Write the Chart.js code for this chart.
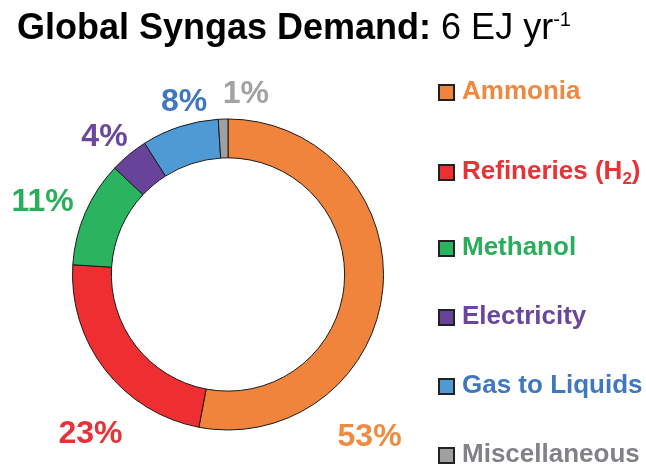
<!DOCTYPE html>
<html>
<head>
<meta charset="utf-8">
<script src="https://cdn.jsdelivr.net/npm/chart.js@4"></script>
<style>
  html, body { margin: 0; padding: 0; background: #fff; }
  #wrap { position: relative; width: 646px; height: 468px; overflow: hidden;
          font-family: "Liberation Sans", Arial, sans-serif; }
  #c { position: absolute; left: 0; top: 0; }
  #title { position: absolute; left: 17px; top: 9px; font-size: 36px; line-height: 36px;
           white-space: nowrap; color: #000; }
  #title b { font-weight: bold; }
  #title sup { font-size: 20px; vertical-align: 13px; line-height: 0; }
  .leg { position: absolute; left: 438px; white-space: nowrap; font-size: 26px;
         line-height: 26px; font-weight: bold; }
  .leg i { position: absolute; left: 0; width: 13px; height: 13px; border: 2px solid #222; }
  .leg span { position: absolute; left: 24px; top: 0; }
  .leg sub { font-size: 17px; vertical-align: -5px; line-height: 0; }
</style>
</head>
<body>
<div id="wrap">
  <canvas id="c" width="646" height="468"></canvas>
  <div id="title"><b>Global Syngas Demand:</b> 6 EJ yr<sup>-1</sup></div>
  <div id="legend"></div>
</div>
<script>
// Datos
var labels = ['Ammonia', 'Refineries (H₂)', 'Methanol', 'Electricity', 'Gas to Liquids', 'Miscellaneous'];
var shares = [53, 23, 11, 4, 8, 1];

// Colores
var sliceColors = ['#F0843C', '#EE2E31', '#2BB460', '#68439A', '#4F9AD5', '#9EA0A2'];
var textColors = ['#F0883E', '#E83236', '#2AAE5C', '#6B46A0', '#3F78C0', '#808285'];
var pctColors = ['#F08A40', '#E83236', '#2AAE5C', '#6B46A0', '#3F78C0', '#A3A3A3'];

// Posición de las etiquetas de porcentaje (grados desde arriba, radio relativo)
var pctAngles = [138.5, 221.2, 292.1, 318.6, 345.9, 5.6];
var pctRadius = [1.374, 1.342, 1.287, 1.201, 1.160, 1.182];

// Posición vertical (línea base) de cada entrada de la leyenda
var legendBaselines = [99, 179, 255, 324, 393, 462];

// Leyenda en HTML
var legend = document.getElementById('legend');
labels.forEach(function (lab, i) {
  var d = document.createElement('div');
  d.className = 'leg';
  d.style.top = (legendBaselines[i] - 22) + 'px';
  d.style.color = textColors[i];
  var html = lab.replace('₂', '<sub>2</sub>');
  d.innerHTML = '<i style="top:7px;background:' + sliceColors[i] + '"></i><span>' + html + '</span>';
  legend.appendChild(d);
});

// Plugin para los porcentajes alrededor del anillo
var pctLabels = {
  id: 'pctLabels',
  afterDatasetsDraw: function (chart) {
    var ctx = chart.ctx;
    var meta = chart.getDatasetMeta(0);
    ctx.save();
    ctx.font = 'bold 32px "Liberation Sans", Arial, sans-serif';
    ctx.textAlign = 'center';
    ctx.textBaseline = 'alphabetic';
    meta.data.forEach(function (arc, i) {
      var a = pctAngles[i] * Math.PI / 180;
      var r = arc.outerRadius * pctRadius[i];
      var x = arc.x + Math.sin(a) * r;
      var y = arc.y - Math.cos(a) * r;
      ctx.fillStyle = pctColors[i];
      ctx.fillText(shares[i] + '%', x, y + 11.5);
    });
    ctx.restore();
  }
};

var chart = new Chart(document.getElementById('c').getContext('2d'), {
  type: 'doughnut',
  data: {
    labels: labels,
    datasets: [{
      data: shares,
      backgroundColor: sliceColors,
      borderColor: '#1a1a1a',
      borderWidth: 1
    }]
  },
  options: {
    responsive: false,
    animation: false,
    cutout: '75%',
    layout: { padding: { left: 72, right: 262, top: 118.5, bottom: 37.5 } },
    plugins: {
      legend: { display: false },
      title: { display: false },
      tooltip: { enabled: false }
    }
  },
  plugins: [pctLabels]
});
</script>
</body>
</html>
